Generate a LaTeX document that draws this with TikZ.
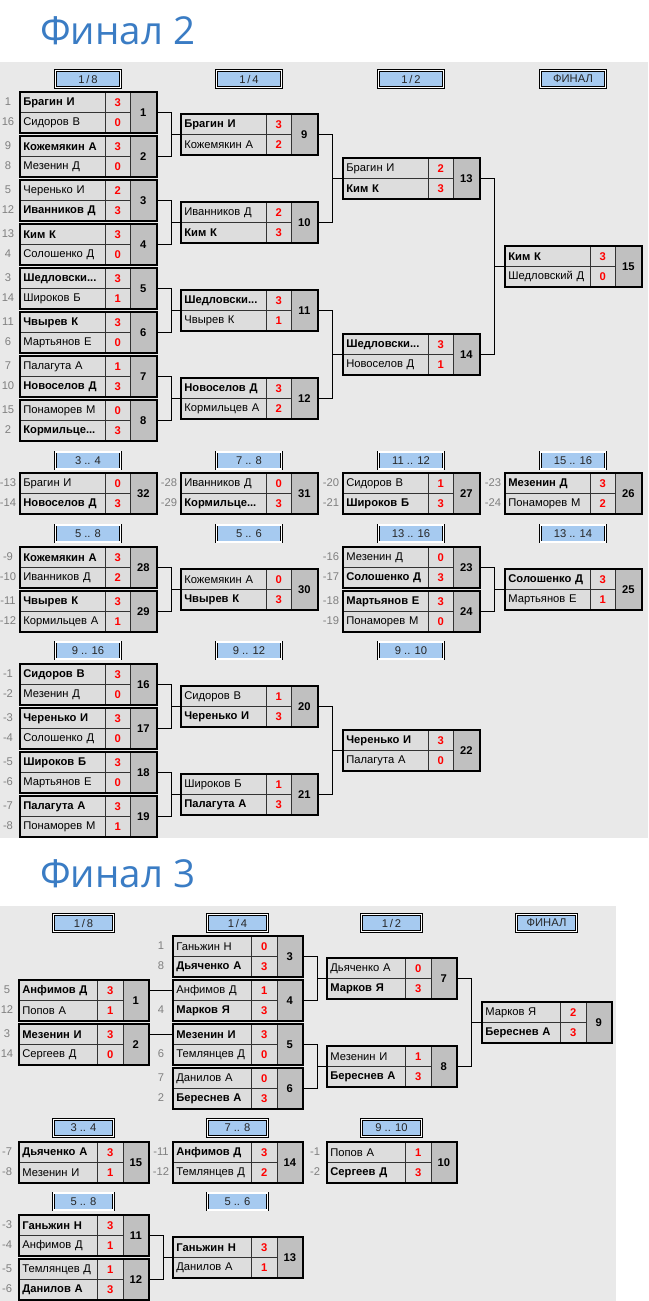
\documentclass[tikz,border=0pt]{standalone}
\usepackage{fontspec}
\setmainfont{Liberation Sans}
\newfontfamily\titlefont{Open Sans}
\usetikzlibrary{fit}
\definecolor{bg}{RGB}{233,233,233}
\definecolor{cellc}{RGB}{221,221,221}
\definecolor{numc}{RGB}{192,192,192}
\definecolor{hdrc}{RGB}{166,202,240}
\definecolor{ttl}{RGB}{58,124,196}
\definecolor{seedc}{RGB}{128,128,128}
\definecolor{scorec}{RGB}{255,0,0}
\newcommand{\setw}[3]{\def\wn{#1}\def\ws{#2}\def\wk{#3}\pgfmathsetmacro\wt{#1-6}}
\newcommand{\fs}{\fontsize{11.2}{13}\selectfont}
\tikzset{
  cell/.style={draw=black!80, line width=0.7pt, fill=cellc, inner sep=0pt, minimum height=20pt, anchor=north west, font=\fs},
  namec/.style={cell, inner xsep=3pt, text width=\wt pt, minimum width=\wn pt, align=left},
  scorecell/.style={cell, minimum width=\ws pt, text=scorec, font=\fs\bfseries},
  numcell/.style={cell, fill=numc, minimum width=\wk pt, minimum height=40pt, font=\fs\bfseries},
  outerbox/.style={draw=black, line width=2.2pt, inner sep=0pt},
  hdr/.style={draw=black, line width=0.7pt, double=white, double distance=1.1pt, fill=hdrc, inner sep=0pt, minimum height=17pt, text=black!85, font=\fs},
  seed/.style={text=seedc, inner sep=0pt, font=\fs},
  conn/.style={draw=black, line width=0.8pt},
  ttlst/.style={anchor=base west, inner sep=0pt, text=ttl, font=\titlefont\fontsize{38.5}{42}\selectfont}
}
\newcommand{\mt}[8]{%
  \node[namec] (#1a) at (#2,#3) {\mbox{#4}};
  \node[scorecell] (#1b) at ({#2+\wn},#3) {#5};
  \node[namec] (#1c) at (#2,{#3+20}) {\mbox{#6}};
  \node[scorecell] (#1d) at ({#2+\wn},{#3+20}) {#7};
  \node[numcell] (#1k) at ({#2+\wn+\ws},#3) {#8};
  \node[outerbox, fit=(#1a)(#1k)] (#1) {};
}
\newcommand{\sd}[5]{%
  \node[seed] (#1s) at ({#2-12},{#3+10}) {#4};
  \node[seed] (#1t) at ({#2-12},{#3+30}) {#5};
}
\newcommand{\sdb}[4]{\node[seed] (#1t) at ({#2-12},{#3+30}) {#4};}
\newcommand{\jn}[3]{%
  \draw[conn] (#1.east) -- ++(13.5,0) |- (#3.west);
  \draw[conn] (#2.east) -- ++(13.5,0) |- (#3.west);
}
\newcommand{\hd}[5]{\node[hdr, minimum width=#4] (#1) at (#2,#3) {#5};}
\begin{document}
\begin{tikzpicture}[x=1pt,y=-1pt]
\useasboundingbox (0,0) rectangle (648,1301);
\fill[white] (0,0) rectangle (648,1301);
\fill[bg] (0,62) rectangle (648,838);
\fill[bg] (0,906) rectangle (616,1301);
\node[ttlst] (t2) at (40,44) {Финал 2};
\node[ttlst] (t3) at (40,887) {Финал 3};
% ---------------- Final 2
\setw{85}{25}{26}
\hd{ha1}{88}{79}{65}{1\,/\,8}
\hd{ha2}{249}{79}{65}{1\,/\,4}
\hd{ha3}{411}{79}{65}{1\,/\,2}
\hd{ha4}{573}{79}{65}{ФИНАЛ}
\hd{ha5}{88}{460.5}{65}{3 .. 4}
\hd{ha6}{249}{460.5}{65}{7 .. 8}
\hd{ha7}{411}{460.5}{65}{11 .. 12}
\hd{ha8}{573}{460.5}{65}{15 .. 16}
\hd{ha9}{88}{533.5}{65}{5 .. 8}
\hd{ha10}{249}{533.5}{65}{5 .. 6}
\hd{ha11}{411}{533.5}{65}{13 .. 16}
\hd{ha12}{573}{533.5}{65}{13 .. 14}
\hd{ha13}{88}{650.5}{65}{9 .. 16}
\hd{ha14}{249}{650.5}{65}{9 .. 12}
\hd{ha15}{411}{650.5}{65}{9 .. 10}

\sd{a1}{20}{92}{1}{16}\mt{a1}{20}{92}{\textbf{Брагин И}}{3}{Сидоров В}{0}{1}
\sd{a2}{20}{136}{9}{8}\mt{a2}{20}{136}{\textbf{Кожемякин А}}{3}{Мезенин Д}{0}{2}
\sd{a3}{20}{180}{5}{12}\mt{a3}{20}{180}{Черенько И}{2}{\textbf{Иванников Д}}{3}{3}
\sd{a4}{20}{224}{13}{4}\mt{a4}{20}{224}{\textbf{Ким К}}{3}{Солошенко Д}{0}{4}
\sd{a5}{20}{268}{3}{14}\mt{a5}{20}{268}{\textbf{Шедловски...}}{3}{Широков Б}{1}{5}
\sd{a6}{20}{312}{11}{6}\mt{a6}{20}{312}{\textbf{Чвырев К}}{3}{Мартьянов Е}{0}{6}
\sd{a7}{20}{356}{7}{10}\mt{a7}{20}{356}{Палагута А}{1}{\textbf{Новоселов Д}}{3}{7}
\sd{a8}{20}{400}{15}{2}\mt{a8}{20}{400}{Понаморев М}{0}{\textbf{Кормильце...}}{3}{8}
\mt{a9}{181}{114}{\textbf{Брагин И}}{3}{Кожемякин А}{2}{9}
\mt{a10}{181}{202}{Иванников Д}{2}{\textbf{Ким К}}{3}{10}
\mt{a11}{181}{290}{\textbf{Шедловски...}}{3}{Чвырев К}{1}{11}
\mt{a12}{181}{378}{\textbf{Новоселов Д}}{3}{Кормильцев А}{2}{12}
\mt{a13}{343}{158}{Брагин И}{2}{\textbf{Ким К}}{3}{13}
\mt{a14}{343}{334}{\textbf{Шедловски...}}{3}{Новоселов Д}{1}{14}
\mt{a15}{505}{246}{\textbf{Ким К}}{3}{Шедловский Д}{0}{15}
\jn{a1}{a2}{a9}\jn{a3}{a4}{a10}\jn{a5}{a6}{a11}\jn{a7}{a8}{a12}
\jn{a9}{a10}{a13}\jn{a11}{a12}{a14}\jn{a13}{a14}{a15}

\sd{a32}{20}{473}{-13}{-14}\mt{a32}{20}{473}{Брагин И}{0}{\textbf{Новоселов Д}}{3}{32}
\sd{a31}{181}{473}{-28}{-29}\mt{a31}{181}{473}{Иванников Д}{0}{\textbf{Кормильце...}}{3}{31}
\sd{a27}{343}{473}{-20}{-21}\mt{a27}{343}{473}{Сидоров В}{1}{\textbf{Широков Б}}{3}{27}
\sd{a26}{505}{473}{-23}{-24}\mt{a26}{505}{473}{\textbf{Мезенин Д}}{3}{Понаморев М}{2}{26}
\sd{a28}{20}{547}{-9}{-10}\mt{a28}{20}{547}{\textbf{Кожемякин А}}{3}{Иванников Д}{2}{28}
\sd{a29}{20}{591}{-11}{-12}\mt{a29}{20}{591}{\textbf{Чвырев К}}{3}{Кормильцев А}{1}{29}
\mt{a30}{181}{569}{Кожемякин А}{0}{\textbf{Чвырев К}}{3}{30}
\sd{a23}{343}{547}{-16}{-17}\mt{a23}{343}{547}{Мезенин Д}{0}{\textbf{Солошенко Д}}{3}{23}
\sd{a24}{343}{591}{-18}{-19}\mt{a24}{343}{591}{\textbf{Мартьянов Е}}{3}{Понаморев М}{0}{24}
\mt{a25}{505}{569}{\textbf{Солошенко Д}}{3}{Мартьянов Е}{1}{25}
\jn{a28}{a29}{a30}\jn{a23}{a24}{a25}

\sd{a16}{20}{664}{-1}{-2}\mt{a16}{20}{664}{\textbf{Сидоров В}}{3}{Мезенин Д}{0}{16}
\sd{a17}{20}{708}{-3}{-4}\mt{a17}{20}{708}{\textbf{Черенько И}}{3}{Солошенко Д}{0}{17}
\sd{a18}{20}{752}{-5}{-6}\mt{a18}{20}{752}{\textbf{Широков Б}}{3}{Мартьянов Е}{0}{18}
\sd{a19}{20}{796}{-7}{-8}\mt{a19}{20}{796}{\textbf{Палагута А}}{3}{Понаморев М}{1}{19}
\mt{a20}{181}{686}{Сидоров В}{1}{\textbf{Черенько И}}{3}{20}
\mt{a21}{181}{774}{Широков Б}{1}{\textbf{Палагута А}}{3}{21}
\mt{a22}{343}{730}{\textbf{Черенько И}}{3}{Палагута А}{0}{22}
\jn{a16}{a17}{a20}\jn{a18}{a19}{a21}\jn{a20}{a21}{a22}

% ---------------- Final 3
\setw{78}{26}{25}
\hd{hb1}{83.5}{923}{60}{1\,/\,8}
\hd{hb2}{237.5}{923}{60}{1\,/\,4}
\hd{hb3}{391.5}{923}{60}{1\,/\,2}
\hd{hb4}{546.5}{923}{60}{ФИНАЛ}
\hd{hb5}{83.5}{1128}{60}{3 .. 4}
\hd{hb6}{237.5}{1128}{60}{7 .. 8}
\hd{hb7}{391.5}{1128}{60}{9 .. 10}
\hd{hb8}{83.5}{1201.5}{60}{5 .. 8}
\hd{hb9}{237.5}{1201.5}{60}{5 .. 6}

\sd{b1}{19}{980}{5}{12}\mt{b1}{19}{980}{\textbf{Анфимов Д}}{3}{Попов А}{1}{1}
\sd{b2}{19}{1024}{3}{14}\mt{b2}{19}{1024}{\textbf{Мезенин И}}{3}{Сергеев Д}{0}{2}
\sd{b3}{173}{936}{1}{8}\mt{b3}{173}{936}{Ганьжин Н}{0}{\textbf{Дьяченко А}}{3}{3}
\sdb{b4}{173}{980}{4}\mt{b4}{173}{980}{Анфимов Д}{1}{\textbf{Марков Я}}{3}{4}
\sdb{b5}{173}{1024}{6}\mt{b5}{173}{1024}{\textbf{Мезенин И}}{3}{Темлянцев Д}{0}{5}
\sd{b6}{173}{1068}{7}{2}\mt{b6}{173}{1068}{Данилов А}{0}{\textbf{Береснев А}}{3}{6}
\mt{b7}{327}{958}{Дьяченко А}{0}{\textbf{Марков Я}}{3}{7}
\mt{b8}{327}{1046}{Мезенин И}{1}{\textbf{Береснев А}}{3}{8}
\mt{b9}{482}{1002}{Марков Я}{2}{\textbf{Береснев А}}{3}{9}
\draw[conn] (b1.east |- b1a.west) -- (b4a.west);
\draw[conn] (b2.east |- b2a.west) -- (b5a.west);
\jn{b3}{b4}{b7}\jn{b5}{b6}{b8}\jn{b7}{b8}{b9}

\sd{b15}{19}{1142}{-7}{-8}\mt{b15}{19}{1142}{\textbf{Дьяченко А}}{3}{Мезенин И}{1}{15}
\sd{b14}{173}{1142}{-11}{-12}\mt{b14}{173}{1142}{\textbf{Анфимов Д}}{3}{Темлянцев Д}{2}{14}
\sd{b10}{327}{1142}{-1}{-2}\mt{b10}{327}{1142}{Попов А}{1}{\textbf{Сергеев Д}}{3}{10}
\sd{b11}{19}{1215}{-3}{-4}\mt{b11}{19}{1215}{\textbf{Ганьжин Н}}{3}{Анфимов Д}{1}{11}
\sd{b12}{19}{1259}{-5}{-6}\mt{b12}{19}{1259}{Темлянцев Д}{1}{\textbf{Данилов А}}{3}{12}
\mt{b13}{173}{1237}{\textbf{Ганьжин Н}}{3}{Данилов А}{1}{13}
\jn{b11}{b12}{b13}
\end{tikzpicture}
\end{document}
